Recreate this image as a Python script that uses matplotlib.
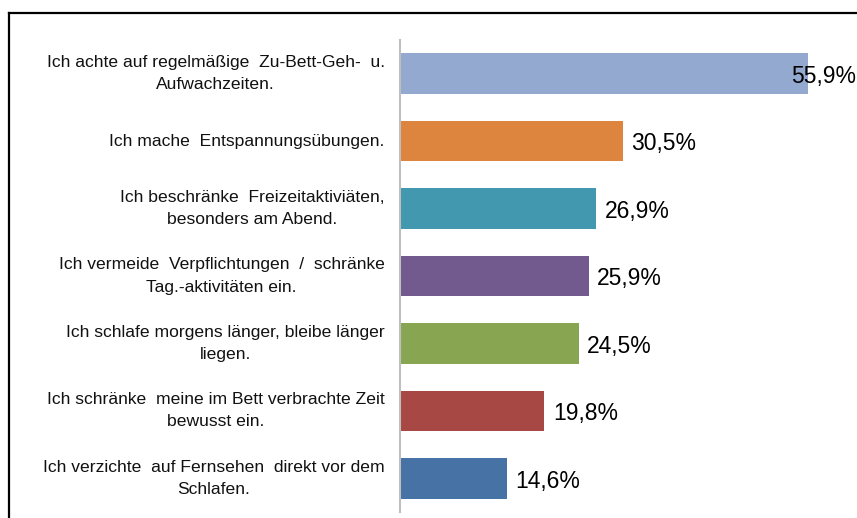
import matplotlib.pyplot as plt
from matplotlib.lines import Line2D

plt.rcParams['font.family'] = ['Liberation Sans', 'DejaVu Sans']

labels = [
    'Ich achte auf regelmäßige  Zu-Bett-Geh-  u.\nAufwachzeiten.',
    'Ich mache  Entspannungsübungen.',
    'Ich beschränke  Freizeitaktiviäten,\nbesonders am Abend.',
    'Ich vermeide  Verpflichtungen  /  schränke\nTag.-aktivitäten ein.',
    'Ich schlafe morgens länger, bleibe länger\nliegen.',
    'Ich schränke  meine im Bett verbrachte Zeit\nbewusst ein.',
    'Ich verzichte  auf Fernsehen  direkt vor dem\nSchlafen.',
]
values = [55.9, 30.5, 26.9, 25.9, 24.5, 19.8, 14.6]
colors = ['#94A9D0', '#DD843F', '#4298AF', '#725A8F', '#88A651', '#A84845', '#4672A6']

W, H = 857, 518
fig = plt.figure(figsize=(W / 100, H / 100), dpi=100)
ax = fig.add_axes([400 / W, 6 / H, 445 / W, 472 / H])

pos = list(range(len(values)))[::-1]
ax.barh(pos, values, height=0.6, color=colors)
ax.set_xlim(0, 61)
ax.set_ylim(-0.5, len(values) - 0.5)

for s in ['top', 'right', 'bottom']:
    ax.spines[s].set_visible(False)
ax.spines['left'].set_color('#BFBFBF')
ax.spines['left'].set_linewidth(1.5)
ax.set_xticks([])
ax.set_yticks([])

for p, v, lab in zip(pos, values, labels):
    ax.text(-2.1, p, lab, ha='right', va='center', multialignment='center',
            fontsize=12.6, linespacing=1.6, color='#111111')
    txt = f'{v:.1f}%'.replace('.', ',')
    if v > 50:
        # Zu lang: Beschriftung am rechten Rand halten
        ax.annotate(txt, xy=(1.0, p), xycoords=('figure fraction', 'data'),
                    xytext=(-1, -2), textcoords='offset points',
                    ha='right', va='center', fontsize=16.5)
    else:
        ax.annotate(txt, xy=(v, p), xytext=(6, -2), textcoords='offset points',
                    ha='left', va='center', fontsize=16.5)

# Rahmen oben und links
fig.add_artist(Line2D([8.5 / W, 1], [1 - 12.5 / H, 1 - 12.5 / H], color='black', lw=1.6))
fig.add_artist(Line2D([8.5 / W, 8.5 / W], [0, 1 - 12.5 / H], color='black', lw=1.6))

fig.savefig('out.png', dpi=100)
